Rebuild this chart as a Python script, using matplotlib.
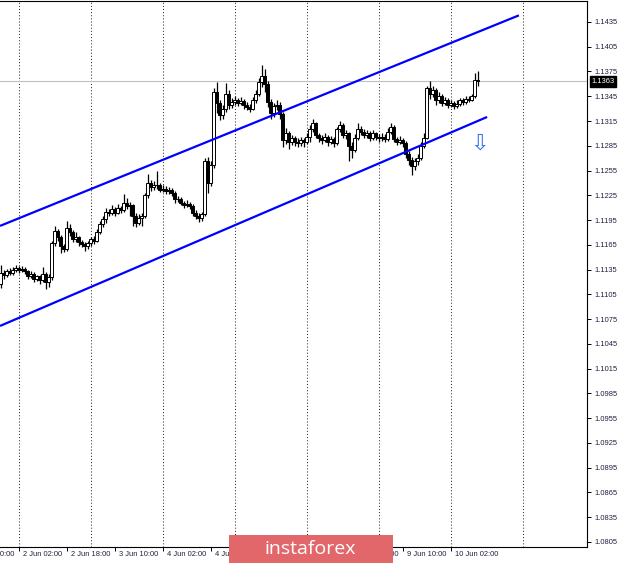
import matplotlib
matplotlib.use("Agg")
import matplotlib.pyplot as plt
import matplotlib.transforms as mtransforms
from matplotlib.patches import Rectangle
import numpy as np

# ---------------- data (EURUSD H1, prices in 1/10000) ----------------
opens = [11117, 11131, 11128, 11133, 11131, 11135, 11137, 11134, 11136, 11133,
         11127, 11130, 11124, 11127, 11122, 11130, 11120, 11126, 11167, 11182,
         11175, 11163, 11160, 11185, 11180, 11172, 11174, 11168, 11166, 11163,
         11167, 11172, 11170, 11181, 11190, 11196, 11205, 11203, 11208, 11204,
         11210, 11207, 11216, 11212, 11213, 11200, 11192, 11198, 11200, 11225,
         11240, 11235, 11238, 11237, 11232, 11233, 11230, 11232, 11228, 11220,
         11221, 11216, 11213, 11215, 11212, 11204, 11200, 11197, 11202, 11267,
         11240, 11262, 11350, 11337, 11322, 11330, 11348, 11335, 11338, 11340,
         11337, 11339, 11335, 11332, 11330, 11340, 11348, 11362, 11370, 11360,
         11338, 11325, 11333, 11335, 11323, 11292, 11300, 11290, 11294, 11290,
         11288, 11292, 11290, 11296, 11305, 11312, 11298, 11295, 11292, 11296,
         11290, 11293, 11288, 11305, 11310, 11298, 11300, 11285, 11280, 11295,
         11305, 11302, 11298, 11300, 11295, 11300, 11296, 11294, 11296, 11293,
         11302, 11308, 11293, 11290, 11292, 11288, 11275, 11268, 11260, 11266,
         11270, 11285, 11295, 11355, 11348, 11352, 11340, 11345, 11337, 11340,
         11335, 11337, 11333, 11336, 11340, 11338, 11342, 11341, 11345, 11365]
highs = [11141, 11134, 11136, 11137, 11138, 11140, 11139, 11139, 11138, 11135,
         11133, 11132, 11129, 11129, 11138, 11132, 11130, 11170, 11188, 11184,
         11177, 11166, 11194, 11190, 11183, 11180, 11176, 11171, 11169, 11170,
         11175, 11176, 11184, 11194, 11200, 11210, 11209, 11213, 11211, 11214,
         11212, 11226, 11222, 11217, 11215, 11203, 11202, 11204, 11228, 11251,
         11244, 11242, 11255, 11240, 11237, 11236, 11235, 11234, 11230, 11224,
         11223, 11218, 11219, 11217, 11214, 11207, 11204, 11205, 11270, 11272,
         11266, 11355, 11362, 11340, 11334, 11361, 11352, 11343, 11345, 11343,
         11344, 11342, 11338, 11336, 11344, 11352, 11367, 11383, 11378, 11363,
         11342, 11337, 11340, 11338, 11326, 11306, 11303, 11298, 11297, 11294,
         11296, 11295, 11300, 11310, 11318, 11314, 11301, 11298, 11300, 11298,
         11297, 11296, 11308, 11315, 11312, 11304, 11302, 11290, 11299, 11313,
         11309, 11305, 11304, 11303, 11304, 11302, 11299, 11300, 11299, 11306,
         11313, 11310, 11296, 11297, 11294, 11291, 11279, 11272, 11270, 11275,
         11289, 11300, 11358, 11363, 11357, 11355, 11350, 11348, 11344, 11343,
         11341, 11339, 11340, 11343, 11343, 11345, 11345, 11348, 11373, 11375]
lows = [11113, 11124, 11126, 11128, 11129, 11132, 11131, 11132, 11130, 11124,
        11125, 11120, 11121, 11118, 11120, 11112, 11114, 11122, 11163, 11170,
        11155, 11156, 11158, 11176, 11168, 11168, 11164, 11162, 11158, 11160,
        11164, 11166, 11168, 11178, 11186, 11192, 11200, 11201, 11200, 11202,
        11203, 11205, 11208, 11200, 11188, 11186, 11189, 11188, 11198, 11222,
        11230, 11232, 11233, 11229, 11229, 11226, 11227, 11224, 11216, 11217,
        11213, 11210, 11211, 11208, 11200, 11196, 11193, 11194, 11200, 11228,
        11236, 11258, 11325, 11316, 11318, 11326, 11330, 11331, 11334, 11333,
        11334, 11330, 11328, 11326, 11328, 11337, 11345, 11356, 11350, 11332,
        11318, 11320, 11328, 11318, 11283, 11287, 11281, 11286, 11285, 11283,
        11285, 11284, 11287, 11290, 11302, 11294, 11290, 11287, 11289, 11285,
        11287, 11284, 11286, 11302, 11294, 11293, 11267, 11270, 11277, 11292,
        11298, 11294, 11295, 11291, 11292, 11292, 11290, 11291, 11289, 11291,
        11299, 11289, 11286, 11287, 11283, 11270, 11262, 11250, 11256, 11262,
        11268, 11282, 11293, 11342, 11344, 11335, 11337, 11333, 11334, 11331,
        11332, 11329, 11331, 11333, 11335, 11336, 11338, 11339, 11343, 11358]
closes = [11131, 11128, 11133, 11131, 11135, 11137, 11134, 11136, 11133, 11127,
          11130, 11124, 11127, 11122, 11130, 11120, 11126, 11167, 11182, 11175,
          11163, 11160, 11185, 11180, 11172, 11174, 11168, 11166, 11163, 11167,
          11172, 11170, 11181, 11190, 11196, 11205, 11203, 11208, 11204, 11210,
          11207, 11216, 11212, 11213, 11200, 11192, 11198, 11200, 11225, 11240,
          11235, 11238, 11237, 11232, 11233, 11230, 11232, 11228, 11220, 11221,
          11216, 11213, 11215, 11212, 11204, 11200, 11197, 11202, 11267, 11240,
          11262, 11350, 11337, 11322, 11330, 11348, 11335, 11338, 11340, 11337,
          11339, 11335, 11332, 11330, 11340, 11348, 11362, 11370, 11360, 11338,
          11325, 11333, 11335, 11323, 11292, 11300, 11290, 11294, 11290, 11288,
          11292, 11290, 11296, 11305, 11312, 11298, 11295, 11292, 11296, 11290,
          11293, 11288, 11305, 11310, 11298, 11300, 11285, 11280, 11295, 11305,
          11302, 11298, 11300, 11295, 11300, 11296, 11294, 11296, 11293, 11302,
          11308, 11293, 11290, 11292, 11288, 11275, 11268, 11260, 11266, 11270,
          11285, 11295, 11355, 11348, 11352, 11340, 11345, 11337, 11340, 11335,
          11337, 11333, 11336, 11340, 11338, 11342, 11341, 11345, 11365, 11363]
first_bar = 10                      # bar index of the first visible candle

time_tick_bars = [0, 16, 32, 48, 64, 80, 96, 112, 128, 144, 160]
time_tick_labels = ["1 Jun 10:00", "2 Jun 02:00", "2 Jun 18:00", "3 Jun 10:00",
                    "4 Jun 02:00", "4 Jun 18:00", "5 Jun 10:00", "8 Jun 02:00",
                    "8 Jun 18:00", "9 Jun 10:00", "10 Jun 02:00"]
hidden_labels = ["5 Jun 10:00", "8 Jun 02:00"]   # fully covered by the logo
grid_bars = [16, 40, 64, 88, 112, 136, 160, 184]
price_ticks = [1.0805, 1.0835, 1.0865, 1.0895, 1.0925, 1.0955, 1.0985, 1.1015,
               1.1045, 1.1075, 1.1105, 1.1135, 1.1165, 1.1195, 1.1225, 1.1255,
               1.1285, 1.1315, 1.1345, 1.1375, 1.1405, 1.1435]
current_price = 1.1363
upper_channel_bars = [9.83, 182.8]
upper_channel_prices = [1.11879, 1.14430]
lower_channel_bars = [9.83, 172.2]
lower_channel_prices = [1.10667, 1.13199]
arrow_bar = 169.8
arrow_price = 1.1288

# ---------------- figure ----------------
W, H = 620, 563
fig = plt.figure(figsize=(W / 100, H / 100), dpi=100)
fig.patch.set_facecolor("white")
ax = fig.add_axes([0, 16 / H, 587 / W, 546 / H])

o = np.array(opens) / 10000.0
h = np.array(highs) / 10000.0
l = np.array(lows) / 10000.0
c = np.array(closes) / 10000.0
idx = np.arange(first_bar, first_bar + len(c))

# vertical dotted grid
for g in grid_bars:
    ax.axvline(g, color="#303030", lw=0.75, ls=(0, (1, 2)), zorder=1)

# current price line
ax.axhline(current_price, color="#c0c0c0", lw=0.8, zorder=1)

# candles
ax.vlines(idx, l, h, color="black", lw=0.9, zorder=3)
up = c >= o
bw = 0.85
ax.bar(idx[up], (c - o)[up], bottom=o[up], width=bw, facecolor="white",
       edgecolor="black", linewidth=0.7, zorder=4)
ax.bar(idx[~up], (o - c)[~up], bottom=c[~up], width=bw, facecolor="black",
       edgecolor="black", linewidth=0.7, zorder=4)

# channel
ax.plot(upper_channel_bars, upper_channel_prices, color="#0000ff", lw=1.6, zorder=5,
        solid_capstyle="butt")
ax.plot(lower_channel_bars, lower_channel_prices, color="#0000ff", lw=1.6, zorder=5,
        solid_capstyle="butt")

# arrow
ax.text(arrow_bar, arrow_price, "\u21e9", color="#3f6ff2", fontsize=16,
        ha="center", va="center", family="DejaVu Sans", zorder=6)

# axes styling
for s in ["top", "right", "bottom"]:
    ax.spines[s].set_color("black")
    ax.spines[s].set_linewidth(0.8)
ax.spines["left"].set_visible(False)

FONT = "Liberation Sans"
TXT = "#202040"
ax.yaxis.tick_right()
ax.set_yticks(price_ticks)
ax.set_yticklabels([f"{p:.4f}" for p in price_ticks], fontsize=5.4,
                   color=TXT, family=FONT)
ax.tick_params(axis="y", direction="out", length=3, width=0.7, pad=2,
               colors="black", labelcolor=TXT)

ax.set_xticks(time_tick_bars)
ax.set_xticklabels([])
ax.tick_params(axis="x", direction="out", length=3, width=0.7, colors="black")

# limits set after the ticks so that the ticks do not widen the view
ax.set_xlim(9.83, 205.5)
ax.set_ylim(1.07989, 1.14604)

xtrans = mtransforms.blended_transform_factory(ax.transData, ax.transAxes)
off = mtransforms.ScaledTranslation(4 / 100, -4 / 100, fig.dpi_scale_trans)
for b, lab in zip(time_tick_bars, time_tick_labels):
    if lab in hidden_labels:
        continue
    ax.text(b, 0, lab, transform=xtrans + off, ha="left", va="top",
            fontsize=5.4, color=TXT, family=FONT, clip_on=False)

# current price label on the axis
ytrans = mtransforms.blended_transform_factory(ax.transAxes, ax.transData)
ax.text(1.008, current_price, "1.1363", transform=ytrans, ha="left", va="center",
        fontsize=5.4, color="white", family=FONT, clip_on=False,
        bbox=dict(facecolor="black", edgecolor="black", pad=1.2))

# instaforex logo
fig.add_artist(Rectangle((229 / W, 0), (393 - 229) / W, 28 / H,
                         transform=fig.transFigure, facecolor="#e2676a",
                         edgecolor="none", zorder=20))
fig.text(310 / W, 14 / H, "instaforex", color="white", fontsize=14,
         family="Open Sans", ha="center", va="center", zorder=21)

fig.savefig("out.png", dpi=100)
